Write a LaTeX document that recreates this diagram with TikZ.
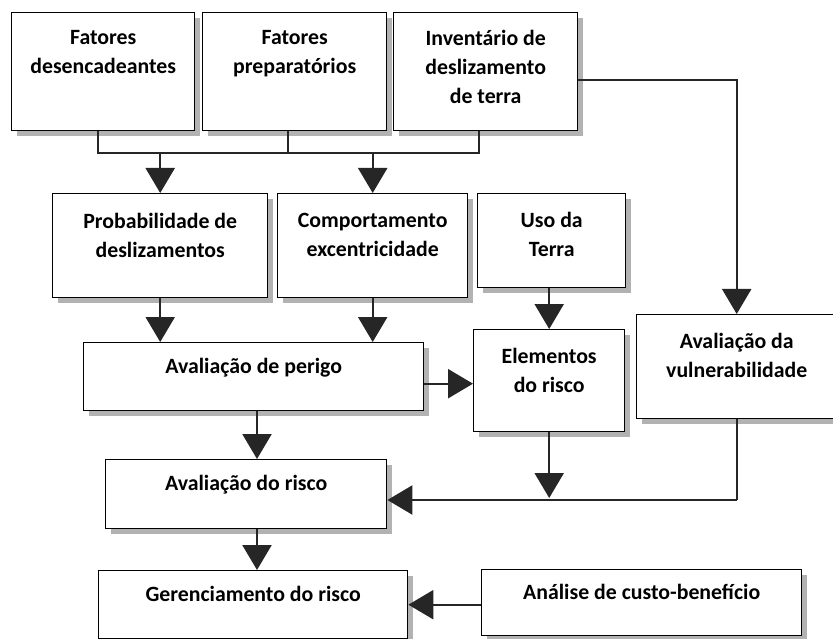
\documentclass[tikz,border=0pt]{standalone}
\usepackage{fontspec}
\setmainfont{Carlito}
\usetikzlibrary{arrows.meta,shadows,calc}
\begin{document}
\begin{tikzpicture}[x=1pt,y=-1pt,
  boxst/.style={draw=black,line width=1.4pt,fill=white,anchor=north west,inner sep=0pt,
    drop shadow={shadow xshift=5pt,shadow yshift=-5pt,fill=black,opacity=0.3}},
  lbl/.style={anchor=north,inner sep=0pt,align=center,text=black,
    font={\fontsize{21.8}{29}\selectfont\bfseries},execute at begin node={\strut}},
  conn/.style={draw=black!85,line width=2.3pt},
  arr/.style={conn,-{Triangle[length=25pt,width=29pt]}}]
\useasboundingbox (0,0) rectangle (833,639);
\path[clip] (0,0) rectangle (833,639);
\fill[white] (0,0) rectangle (833,639);
\newcommand{\mkbox}[7]{%
  \node[boxst,minimum width=#4-#2,minimum height=#5-#3] (#1) at (#2,#3) {};
  \node[lbl] (#1-l) at ($(#1.north)+(0,#7)$) {#6};}
\mkbox{fd}{11}{12}{194}{130}{Fatores\\desencadeantes}{18.5}
\mkbox{fp}{202}{12}{386}{130}{Fatores\\preparatórios}{18.5}
\mkbox{inv}{393}{12}{577}{130}{Inventário de\\deslizamento\\de terra}{18.5}
\mkbox{prob}{52}{193}{267}{297}{Probabilidade de\\deslizamentos}{20.5}
\mkbox{comp}{277}{193}{467}{297}{Comportamento\\excentricidade}{20.5}
\mkbox{uso}{477}{193}{625}{287}{Uso da\\Terra}{19.5}
\mkbox{vul}{636}{314}{836}{418}{Avaliação da\\vulnerabilidade}{19}
\mkbox{per}{83}{342}{423}{410}{Avaliação de perigo}{10.5}
\mkbox{ele}{473}{329}{624}{431}{Elementos\\do risco}{19}
\mkbox{ris}{105}{459}{386}{528}{Avaliação do risco}{10.5}
\mkbox{ger}{98}{570}{407}{638}{Gerenciamento do risco}{10.5}
\mkbox{ana}{481}{569}{801}{635}{Análise de custo-benefício}{10}
% top merge
\coordinate (j1) at (98,153);
\coordinate (j2) at (479,153);
\coordinate (j3) at (288,153);
\draw[conn] (fd.south -| j1) -- (j1) -- (j2) -- (inv.south -| j2);
\draw[conn] (fp.south -| j3) -- (j3);
\draw[arr] (prob.north |- j1) -- (prob.north);
\draw[arr] (comp.north |- j1) -- (comp.north);
% inventory to vulnerability
\coordinate (invo) at ($(inv.east)+(0,8)$);
\draw[arr] (invo) -| (vul.north);
% second row to hazard
\draw[arr] (prob.south) -- (prob.south |- per.north);
\draw[arr] (comp.south) -- (comp.south |- per.north);
\draw[arr] (ele.north |- uso.south) -- (ele.north);
\coordinate (pe) at ($(per.east)+(0,7)$);
\draw[arr] (pe) -- (ele.west |- pe);
% hazard to risk
\coordinate (rk) at (257,0);
\draw[arr] (per.south -| rk) -- (ris.north -| rk);
\coordinate (hz) at (0,500);
\draw[conn] (vul.south) -- (vul.south |- hz);
\draw[arr] (vul.south |- hz) -- (ris.east |- hz);
\draw[arr] (ele.south) -- ($(ele.south |- hz)+(0,-2)$);
% risk to management
\draw[arr] (ris.south -| rk) -- (ger.north -| rk);
\draw[arr] (ana.west |- ger.east) -- (ger.east);
\end{tikzpicture}
\end{document}
